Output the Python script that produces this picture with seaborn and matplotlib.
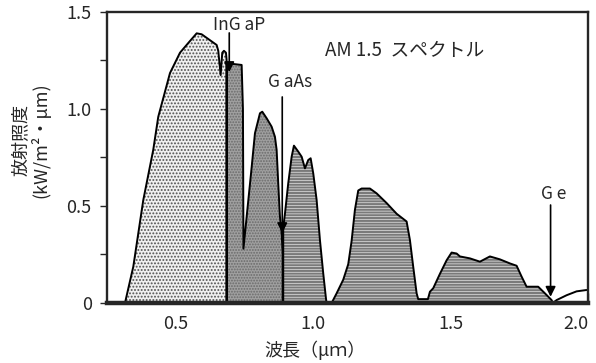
import matplotlib
matplotlib.use('Agg')
import matplotlib.pyplot as plt
import pandas as pd
import seaborn as sns

# AM1.5 spectrum, split by the cell that absorbs each band (wavelength in um, irradiance in kW/m2/um)
ingap_wl = [0.3155, 0.3457, 0.382, 0.4184, 0.4366, 0.4792, 0.5156, 0.5457, 0.5763, 0.5945,
            0.649, 0.6549, 0.6636, 0.6694, 0.6756, 0.6829, 0.6854, 0.6854]
ingap_irr = [0.0, 0.187, 0.53, 0.79, 0.96, 1.185, 1.29, 1.34, 1.39, 1.385,
             1.33, 1.30, 1.175, 1.29, 1.30, 1.29, 1.25, 0.0]

gaas_wl = [0.6854, 0.6854, 0.6912, 0.74, 0.7447, 0.7458, 0.7465, 0.7582, 0.7764, 0.7884, 0.8066,
           0.815, 0.831, 0.849, 0.8611, 0.8673, 0.8731, 0.8793, 0.8855, 0.8891, 0.8891]
gaas_irr = [0.0, 1.23, 1.235, 1.227, 1.0, 0.6, 0.28, 0.445, 0.70, 0.875, 0.978,
            0.986, 0.952, 0.909, 0.857, 0.789, 0.617, 0.445, 0.36, 0.256, 0.0]

ge_wl = [0.8913, 0.8913, 0.8975, 0.9095, 0.9219, 0.9302, 0.946, 0.9583, 0.9703, 0.9823, 0.991,
         1.0005, 1.0128, 1.0248, 1.0368, 1.0467, 1.049, 1.0674, 1.0856, 1.1096, 1.1278, 1.1401,
         1.1521, 1.1642, 1.1765, 1.2067, 1.2311, 1.2675, 1.3038, 1.3402, 1.3522, 1.3642, 1.3766,
         1.3824, 1.4177, 1.425, 1.437, 1.4613, 1.4857, 1.5039, 1.5221, 1.5341, 1.5705, 1.6069,
         1.6432, 1.6796, 1.716, 1.7404, 1.7586, 1.7767, 1.8189, 1.8433, 1.8677, 1.8724]
ge_irr = [0.0, 0.39, 0.46, 0.617, 0.754, 0.811, 0.78, 0.754, 0.694, 0.737, 0.746,
          0.668, 0.531, 0.325, 0.153, 0.024, 0.0, 0.0, 0.05, 0.12, 0.2, 0.32,
          0.48, 0.58, 0.59, 0.59, 0.565, 0.515, 0.46, 0.42, 0.325, 0.187, 0.05,
          0.02, 0.02, 0.058, 0.076, 0.15, 0.22, 0.26, 0.255, 0.24, 0.23, 0.213,
          0.24, 0.225, 0.204, 0.192, 0.136, 0.084, 0.084, 0.05, 0.015, 0.0]

tail_wl = [1.8724, 1.8859, 1.9223, 1.9586, 1.995]
tail_irr = [0.0, 0.015, 0.04, 0.06, 0.067]

# cell labels: text position and arrow (start, tip)
cell_names = ['InG aP', 'G aAs', 'G e']
cell_text_xy = [(0.730, 1.433), (0.9157, 1.139), (1.876, 0.562)]
cell_arrow_x = [0.6949, 0.8877, 1.864]
cell_arrow_y = [(1.392, 1.19), (1.062, 0.36), (0.505, 0.032)]

sns.set_style('ticks')
jp = ['Noto Sans CJK JP', 'DejaVu Sans']
plt.rcParams['font.family'] = jp

fig = plt.figure(figsize=(5.96, 3.63), dpi=100)
ax = fig.add_axes([0.1795, 0.1653, 0.807, 0.8017])

#Fills
plt.rcParams['hatch.linewidth'] = 0.9
ax.fill(ingap_wl, ingap_irr, facecolor='#f0f0f0', edgecolor='#505050', hatch='.....', linewidth=0)
ax.fill(gaas_wl, gaas_irr, facecolor='#a0a0a0', edgecolor='#6a6a6a', hatch='......', linewidth=0)
plt.rcParams['hatch.linewidth'] = 1.6
ax.fill(ge_wl, ge_irr, facecolor='white', edgecolor='#7a7a7a', hatch='------', linewidth=0)

#Outline
df = pd.DataFrame({'wl': ingap_wl + gaas_wl + ge_wl + tail_wl,
                   'irr': ingap_irr + gaas_irr + ge_irr + tail_irr})
sns.lineplot(data=df, x='wl', y='irr', sort=False, estimator=None, color='black', lw=1.4, ax=ax)

#Arrows and labels
for name, (tx, ty), ax_x, (y0, y1) in zip(cell_names, cell_text_xy, cell_arrow_x, cell_arrow_y):
    ax.text(tx, ty, name, ha='center', va='center', fontsize=12.5)
    ax.annotate('', xy=(ax_x, y1), xytext=(ax_x, y0),
                arrowprops=dict(arrowstyle='-|>', color='black', lw=1.2, mutation_scale=15, shrinkA=0, shrinkB=0))
ax.text(1.334, 1.304, 'AM 1.5  スペクトル', ha='center', va='center', fontsize=13.5)

ax.set_xlim(0.25, 2.0)
ax.set_ylim(0, 1.5)
ax.set_xticks([0.5, 1.0, 1.5, 2.0])
ax.set_xticklabels(['0.5', '1.0', '1.5', '2.0'])
ax.get_xticklabels()[-1].set_horizontalalignment('right')
ax.set_xticks([0.75, 1.25, 1.75], minor=True)
ax.set_yticks([0, 0.5, 1.0, 1.5])
ax.set_yticklabels(['0', '0.5', '1.0', '1.5'])
ax.set_yticks([0.25, 0.75, 1.25], minor=True)
ax.tick_params(axis='x', which='both', direction='in', length=7, width=1, pad=9, labelsize=13)
ax.tick_params(axis='y', which='both', direction='out', length=5, width=1, pad=6, labelsize=13)
for side in ['top', 'left', 'right']:
    ax.spines[side].set_linewidth(1.7)
ax.spines['bottom'].set_linewidth(3.2)
ax.set_xlabel('')
ax.set_ylabel('')

fig.text(0.529, 0.036, '波長（μｍ）', ha='center', va='center', fontsize=13)
fig.text(0.052, 0.614, '放射照度\n(kW/m²・μm)', ha='center', va='center', rotation=90,
         fontsize=13, linespacing=1.05)

plt.savefig('out.png', dpi=100)
